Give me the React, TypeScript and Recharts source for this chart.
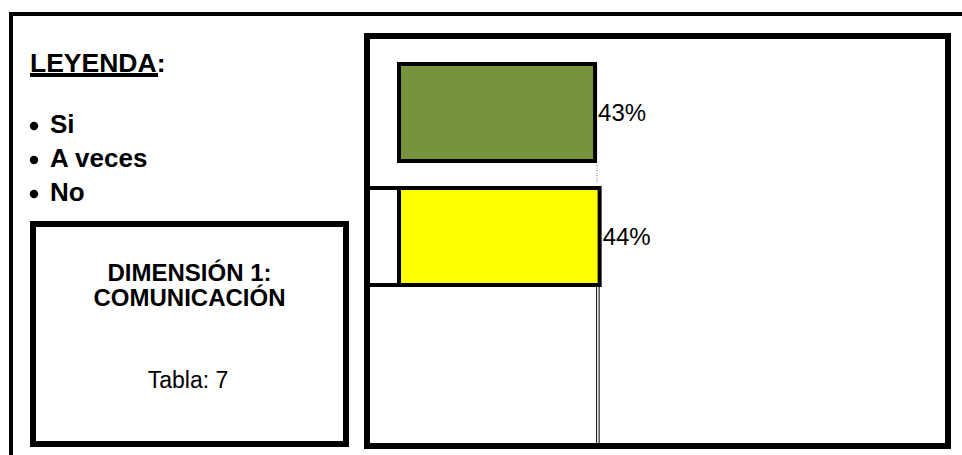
import React from "react";
import { BarChart, Bar, XAxis, YAxis, Cell, LabelList } from "recharts";

const categories = ["Si", "A veces"];
const values = [43, 44];
const barColors = ["#77933C", "#FFFF00"];
const legendItems = ["Si", "A veces", "No"];
const legendTitle = "LEYENDA";
const boxTitle = ["DIMENSIÓN 1:", "COMUNICACIÓN"];
const boxTable = "Tabla: 7";

const data = categories.map((c, i) => ({ name: c, value: values[i] }));

const FONT = "'Liberation Sans', Arial, Helvetica, sans-serif";

const BarShape = (props: any) => {
  const { x, y, width, height, fill, index } = props;
  return (
    <g>
      <rect x={x} y={y} width={width} height={height} fill={fill} stroke="#000" strokeWidth={4} />
      {index === 0 && (
        <line
          x1={x + width + 2}
          x2={x + width + 2}
          y1={y + height + 4}
          y2={y + height + 22}
          stroke="#9a9a9a"
          strokeWidth={1.5}
          strokeDasharray="1 1.5"
        />
      )}
      {index === 1 && (
        <g>
          <line x1={x - 32} x2={x} y1={y} y2={y} stroke="#000" strokeWidth={4} />
          <line x1={x - 32} x2={x} y1={y + height} y2={y + height} stroke="#000" strokeWidth={4} />
          <line x1={x + width - 3} x2={x + width - 3} y1={y + height + 2} y2={y + height + 160} stroke="#000" strokeWidth={1} />
          <line x1={x + width - 0.5} x2={x + width - 0.5} y1={y + height + 2} y2={y + height + 160} stroke="#000" strokeWidth={1} />
        </g>
      )}
    </g>
  );
};

export default function App() {
  return (
    <div style={{ position: "absolute", left: 0, top: 0, width: 962, height: 455, background: "#fff", overflow: "hidden" }}>
      <div style={{ position: "absolute", left: 0, top: 0 }}>
        <BarChart
          width={962}
          height={455}
          data={data}
          layout="vertical"
          margin={{ top: 50, bottom: 157, left: 399, right: 107 }}
          barSize={97}
        >
          <XAxis type="number" domain={[0, 100]} hide />
          <YAxis type="category" dataKey="name" hide width={0} />
          <Bar dataKey="value" isAnimationActive={false} shape={<BarShape />}>
            {data.map((d, i) => (
              <Cell key={d.name} fill={barColors[i]} />
            ))}
            <LabelList
              dataKey="value"
              position="right"
              offset={3}
              formatter={(v: any) => `${v}%`}
              style={{ fontSize: 24, fontFamily: FONT, fill: "#000" }}
            />
          </Bar>
        </BarChart>
      </div>
      <svg
        width={962}
        height={455}
        style={{ position: "absolute", left: 0, top: 0, pointerEvents: "none" }}
      >
        {/* outer frame */}
        <line x1={9} x2={962} y1={14} y2={14} stroke="#000" strokeWidth={4} />
        <line x1={11} x2={11} y1={12} y2={455} stroke="#000" strokeWidth={4} />
        {/* chart frame */}
        <rect x={367} y={36} width={581} height={410} fill="none" stroke="#000" strokeWidth={6} />
        {/* legend */}
        <text x={30} y={72} fontFamily={FONT} fontWeight="bold" fontSize={26.5} fill="#000">
          {legendTitle}:
        </text>
        <rect x={30} y={73} width={128} height={4} fill="#000" />
        {legendItems.map((t, i) => (
          <g key={t}>
            <circle cx={34} cy={126 + i * 34} r={4.2} fill="#000" />
            <text x={50} y={133 + i * 34} fontFamily={FONT} fontWeight="bold" fontSize={26} fill="#000">
              {t}
            </text>
          </g>
        ))}
        {/* dimension box */}
        <rect x={33} y={224} width={313} height={220} fill="none" stroke="#000" strokeWidth={6} />
        <text x={189.5} y={281} textAnchor="middle" fontFamily={FONT} fontWeight="bold" fontSize={24} fill="#000">
          {boxTitle[0]}
        </text>
        <text x={189.5} y={306} textAnchor="middle" fontFamily={FONT} fontWeight="bold" fontSize={24} fill="#000">
          {boxTitle[1]}
        </text>
        <text x={188} y={388} textAnchor="middle" fontFamily={FONT} fontSize={23} fill="#000">
          {boxTable}
        </text>
      </svg>
    </div>
  );
}
